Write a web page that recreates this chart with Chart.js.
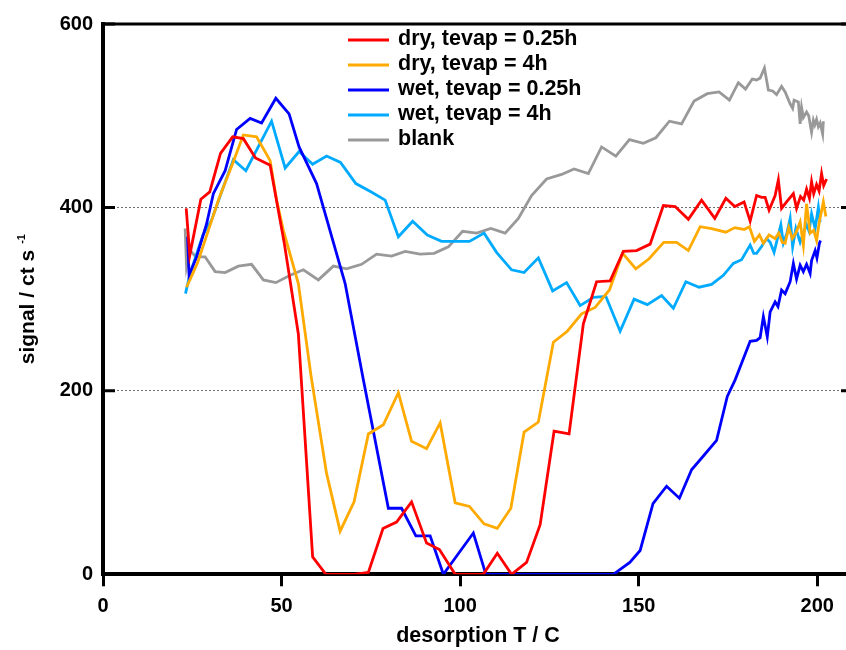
<!DOCTYPE html>
<html>
<head>
<meta charset="utf-8">
<script src="https://cdn.jsdelivr.net/npm/chart.js@4.4.0/dist/chart.umd.min.js"></script>
<style>
  html, body { margin: 0; padding: 0; background: #fff; overflow: hidden; }
  canvas { display: block; }
</style>
</head>
<body>
<canvas id="tpd" width="862" height="650" style="width:862px;height:650px"></canvas>
<script>
// desorption T (C) / signal (ct s-1)
const dryShortT = [23.3, 24.3, 27.4, 29.9, 32.9, 36.3, 39.3, 42.7, 46.8, 50.8, 54.7, 58.7, 62.4, 66.3, 70.3, 74.3, 78.4, 82.2, 86.4, 90.6, 94.2, 98.6, 102.5, 106.5, 110.4, 114.4, 118.6, 122.4, 126.3, 130.5, 134.5, 138.2, 142.0, 145.7, 149.4, 153.2, 156.9, 160.2, 163.9, 167.6, 171.3, 174.4, 176.9, 179.5, 181.2, 183.0, 184.4, 185.4, 186.5, 188.2, 189.1, 190.0, 191.4, 193.3, 194.2, 195.3, 196.2, 197.0, 197.8, 198.4, 199.0, 199.8, 200.5, 201.2, 201.8, 202.6];
const dryShort  = [399, 348, 409, 417, 459, 477, 475, 454, 446, 360, 262, 19, 0, 0, 0, 2, 50, 57, 79, 34, 27, 0, 0, 0, 23, 0, 13, 54, 156, 153, 273, 319, 320, 352, 353, 360, 402, 401, 387, 408, 388, 410, 401, 406, 385, 413, 411, 411, 397, 413, 430, 399, 406, 415, 399, 412, 408, 420, 410, 428, 415, 425, 418, 437, 424, 431];

const dryLongT = [23.4, 26.5, 29.5, 32.5, 36.0, 39.3, 43.0, 46.8, 48.6, 50.5, 54.7, 58.3, 62.6, 66.4, 70.3, 74.3, 78.5, 82.7, 86.4, 90.6, 94.4, 98.6, 102.6, 106.7, 110.4, 114.2, 117.9, 121.9, 126.1, 130.0, 134.0, 137.8, 141.8, 145.5, 149.2, 152.9, 157.0, 160.6, 163.9, 167.2, 170.4, 174.4, 176.9, 179.5, 181.0, 182.4, 183.8, 184.9, 186.5, 188.2, 189.2, 190.2, 191.0, 192.0, 193.0, 194.0, 195.2, 196.1, 197.0, 198.0, 199.0, 199.8, 200.6, 201.7, 202.4];
const dryLong  = [313, 340, 375, 410, 445, 479, 477, 451, 408, 375, 317, 215, 110, 47, 79, 153, 163, 198, 145, 137, 165, 78, 74, 55, 50, 72, 155, 166, 253, 265, 284, 291, 310, 350, 333, 344, 362, 362, 353, 379, 377, 373, 378, 376, 379, 363, 370, 361, 370, 366, 372, 362, 361, 378, 366, 372, 384, 359, 404, 372, 375, 364, 385, 406, 390];

const wetShortT = [23.7, 24.1, 26.2, 29.0, 30.9, 34.2, 37.4, 41.2, 44.4, 48.4, 52.1, 54.9, 59.8, 61.7, 67.8, 72.9, 79.9, 83.6, 87.6, 91.6, 95.3, 103.7, 107.2, 142.9, 147.5, 150.4, 154.0, 157.8, 161.4, 164.8, 168.1, 171.8, 174.8, 177.0, 181.2, 183.0, 184.0, 184.9, 186.0, 186.8, 188.2, 189.0, 190.0, 191.0, 192.4, 193.3, 194.2, 195.2, 196.1, 197.0, 198.0, 198.4, 199.4, 199.9, 200.6, 200.9];
const wetShort  = [368, 326, 346, 382, 415, 440, 485, 497, 492, 519, 502, 466, 426, 400, 317, 212, 72, 72, 42, 42, 0, 45, 0, 0, 13, 26, 77, 96, 83, 114, 129, 146, 194, 212, 254, 255, 258, 281, 259, 286, 297, 292, 310, 306, 319, 339, 322, 337, 330, 338, 328, 342, 353, 345, 361, 364];

const wetLongT = [23.1, 24.4, 28.0, 30.4, 33.5, 36.5, 40.0, 47.2, 51.0, 54.9, 58.7, 62.6, 66.5, 70.8, 75.0, 79.0, 82.7, 86.7, 90.8, 94.8, 98.6, 102.6, 106.7, 110.2, 114.4, 117.9, 121.9, 125.9, 129.8, 133.6, 137.3, 140.8, 144.8, 148.7, 152.4, 156.4, 159.7, 163.2, 166.9, 170.4, 173.7, 176.5, 178.8, 181.2, 182.2, 183.0, 184.5, 185.8, 186.8, 187.9, 189.1, 189.8, 190.5, 191.5, 192.4, 193.1, 194.0, 195.2, 196.1, 197.0, 197.7, 198.4, 199.4, 200.3, 200.8];
const wetLong  = [306, 328, 370, 386, 420, 452, 440, 494, 443, 461, 447, 456, 449, 426, 417, 408, 368, 385, 370, 363, 363, 363, 372, 351, 332, 329, 345, 309, 318, 293, 302, 303, 265, 300, 294, 304, 290, 319, 313, 316, 326, 339, 343, 359, 350, 350, 358, 366, 362, 351, 370, 381, 361, 372, 388, 357, 377, 362, 372, 381, 374, 393, 377, 400, 384];

const blankT = [23.0, 23.4, 24.4, 26.0, 28.6, 31.4, 34.2, 37.9, 41.6, 44.9, 48.4, 52.4, 56.1, 60.3, 64.5, 68.2, 72.4, 76.6, 80.8, 84.6, 88.8, 92.7, 96.7, 100.7, 104.6, 108.6, 112.6, 116.3, 120.0, 124.2, 128.4, 131.9, 135.9, 139.6, 143.6, 147.4, 151.3, 154.8, 158.6, 162.0, 165.5, 169.2, 172.5, 175.4, 177.9, 179.9, 181.8, 183.0, 184.0, 185.2, 186.3, 187.5, 188.6, 190.0, 191.0, 192.4, 193.1, 193.5, 194.7, 195.2, 195.6, 196.1, 197.0, 197.6, 198.4, 198.9, 199.3, 199.8, 200.3, 200.8, 201.5, 201.7];
const blank  = [377, 335, 353, 346, 346, 330, 329, 336, 338, 321, 318, 326, 332, 321, 336, 333, 338, 349, 347, 352, 349, 350, 357, 374, 372, 377, 372, 388, 413, 431, 436, 442, 437, 466, 456, 474, 470, 476, 494, 491, 516, 524, 526, 517, 536, 529, 540, 539, 541, 552, 528, 527, 523, 532, 526, 513, 508, 517, 515, 491, 509, 498, 504, 500, 482, 495, 490, 496, 488, 492, 480, 494];

const seriesNames = ['dry, tevap = 0.25h', 'dry, tevap = 4h', 'wet, tevap = 0.25h', 'wet, tevap = 4h', 'blank'];
const seriesColors = ['#ff0000', '#ffaa00', '#0000ff', '#00aaff', '#999999'];
const xTicks = [0, 50, 100, 150, 200];
const yTicks = [0, 200, 400, 600];

const FONT = "'Liberation Sans', Arial, Helvetica, sans-serif";

const pairs = (xs, ys) => xs.map((x, i) => ({ x: x, y: ys[i] }));
const series = [
  pairs(dryShortT, dryShort),
  pairs(dryLongT, dryLong),
  pairs(wetShortT, wetShort),
  pairs(wetLongT, wetLong),
  pairs(blankT, blank)
];

// frame, inward y ticks, legend box and y title are drawn by hand
const decor = {
  id: 'decor',
  afterDraw(chart) {
    const { ctx, chartArea: a, scales: { y } } = chart;
    ctx.save();
    ctx.strokeStyle = '#000';
    ctx.lineWidth = 3;
    ctx.beginPath();
    ctx.moveTo(a.left - 2, a.top);
    ctx.lineTo(a.right, a.top);
    ctx.moveTo(a.right, a.top);
    ctx.lineTo(a.right, a.bottom);
    ctx.stroke();
    yTicks.forEach(v => {
      const py = y.getPixelForValue(v);
      ctx.beginPath();
      ctx.moveTo(a.left, py);
      ctx.lineTo(a.left + 12, py);
      ctx.moveTo(a.right - 12, py);
      ctx.lineTo(a.right, py);
      ctx.stroke();
    });

    // legend
    ctx.font = 'bold 21.5px ' + FONT;
    ctx.textBaseline = 'middle';
    ctx.textAlign = 'left';
    chart.data.datasets.forEach((ds, i) => {
      const yy = 40 + 25 * i;
      ctx.strokeStyle = ds.borderColor;
      ctx.lineWidth = 3;
      ctx.beginPath();
      ctx.moveTo(348, yy);
      ctx.lineTo(389, yy);
      ctx.stroke();
      ctx.fillStyle = '#000';
      ctx.fillText(ds.label, 398, yy - 0.5);
    });

    // y title with superscript
    const main = 'signal / ct s';
    const sup = '-1';
    ctx.font = 'bold 21px ' + FONT;
    const w1 = ctx.measureText(main).width;
    ctx.font = 'bold 11px ' + FONT;
    const w2 = ctx.measureText(sup).width;
    const gap = 6;
    const x0 = -(w1 + gap + w2) / 2;
    ctx.translate(34, (a.top + a.bottom) / 2);
    ctx.rotate(-Math.PI / 2);
    ctx.textBaseline = 'alphabetic';
    ctx.fillStyle = '#000';
    ctx.font = 'bold 21px ' + FONT;
    ctx.fillText(main, x0, 0);
    ctx.font = 'bold 11px ' + FONT;
    ctx.fillText(sup, x0 + w1 + gap, -9);
    ctx.restore();
  }
};

new Chart(document.getElementById('tpd'), {
  type: 'scatter',
  data: {
    datasets: series.map((pts, i) => ({
      label: seriesNames[i],
      data: pts,
      showLine: true,
      borderColor: seriesColors[i],
      backgroundColor: seriesColors[i],
      borderWidth: 2.8,
      pointRadius: 0,
      tension: 0
    }))
  },
  options: {
    responsive: false,
    animation: false,
    devicePixelRatio: 1,
    layout: { padding: { top: 24, right: 9, left: 0, bottom: 0 } },
    plugins: { legend: { display: false }, tooltip: { enabled: false } },
    scales: {
      x: {
        type: 'linear',
        min: 0,
        max: 210,
        afterBuildTicks: s => { s.ticks = xTicks.map(v => ({ value: v })); },
        afterFit: s => { s.height = 75.7; },
        grid: { drawOnChartArea: false, drawTicks: true, tickLength: 12, tickWidth: 3, tickColor: '#000' },
        border: { color: '#000', width: 4 },
        ticks: { color: '#000', font: { family: FONT, size: 20, weight: 'bold' }, padding: 8, maxRotation: 0 },
        title: {
          display: true,
          text: 'desorption T / C',
          color: '#000',
          font: { family: FONT, size: 21.5, weight: 'bold' },
          padding: { top: 0, bottom: 1 }
        }
      },
      y: {
        type: 'linear',
        min: 0,
        max: 600,
        afterBuildTicks: s => { s.ticks = yTicks.map(v => ({ value: v })); },
        afterFit: s => { s.width = 103; },
        grid: {
          drawTicks: false,
          lineWidth: 1,
          color: c => (c.tick && c.tick.value > 0 && c.tick.value < 600) ? '#707070' : 'rgba(0,0,0,0)'
        },
        border: { color: '#000', width: 4, dash: [2, 2] },
        ticks: { color: '#000', font: { family: FONT, size: 20, weight: 'bold' }, padding: 10 }
      }
    }
  },
  plugins: [decor]
});
</script>
</body>
</html>
